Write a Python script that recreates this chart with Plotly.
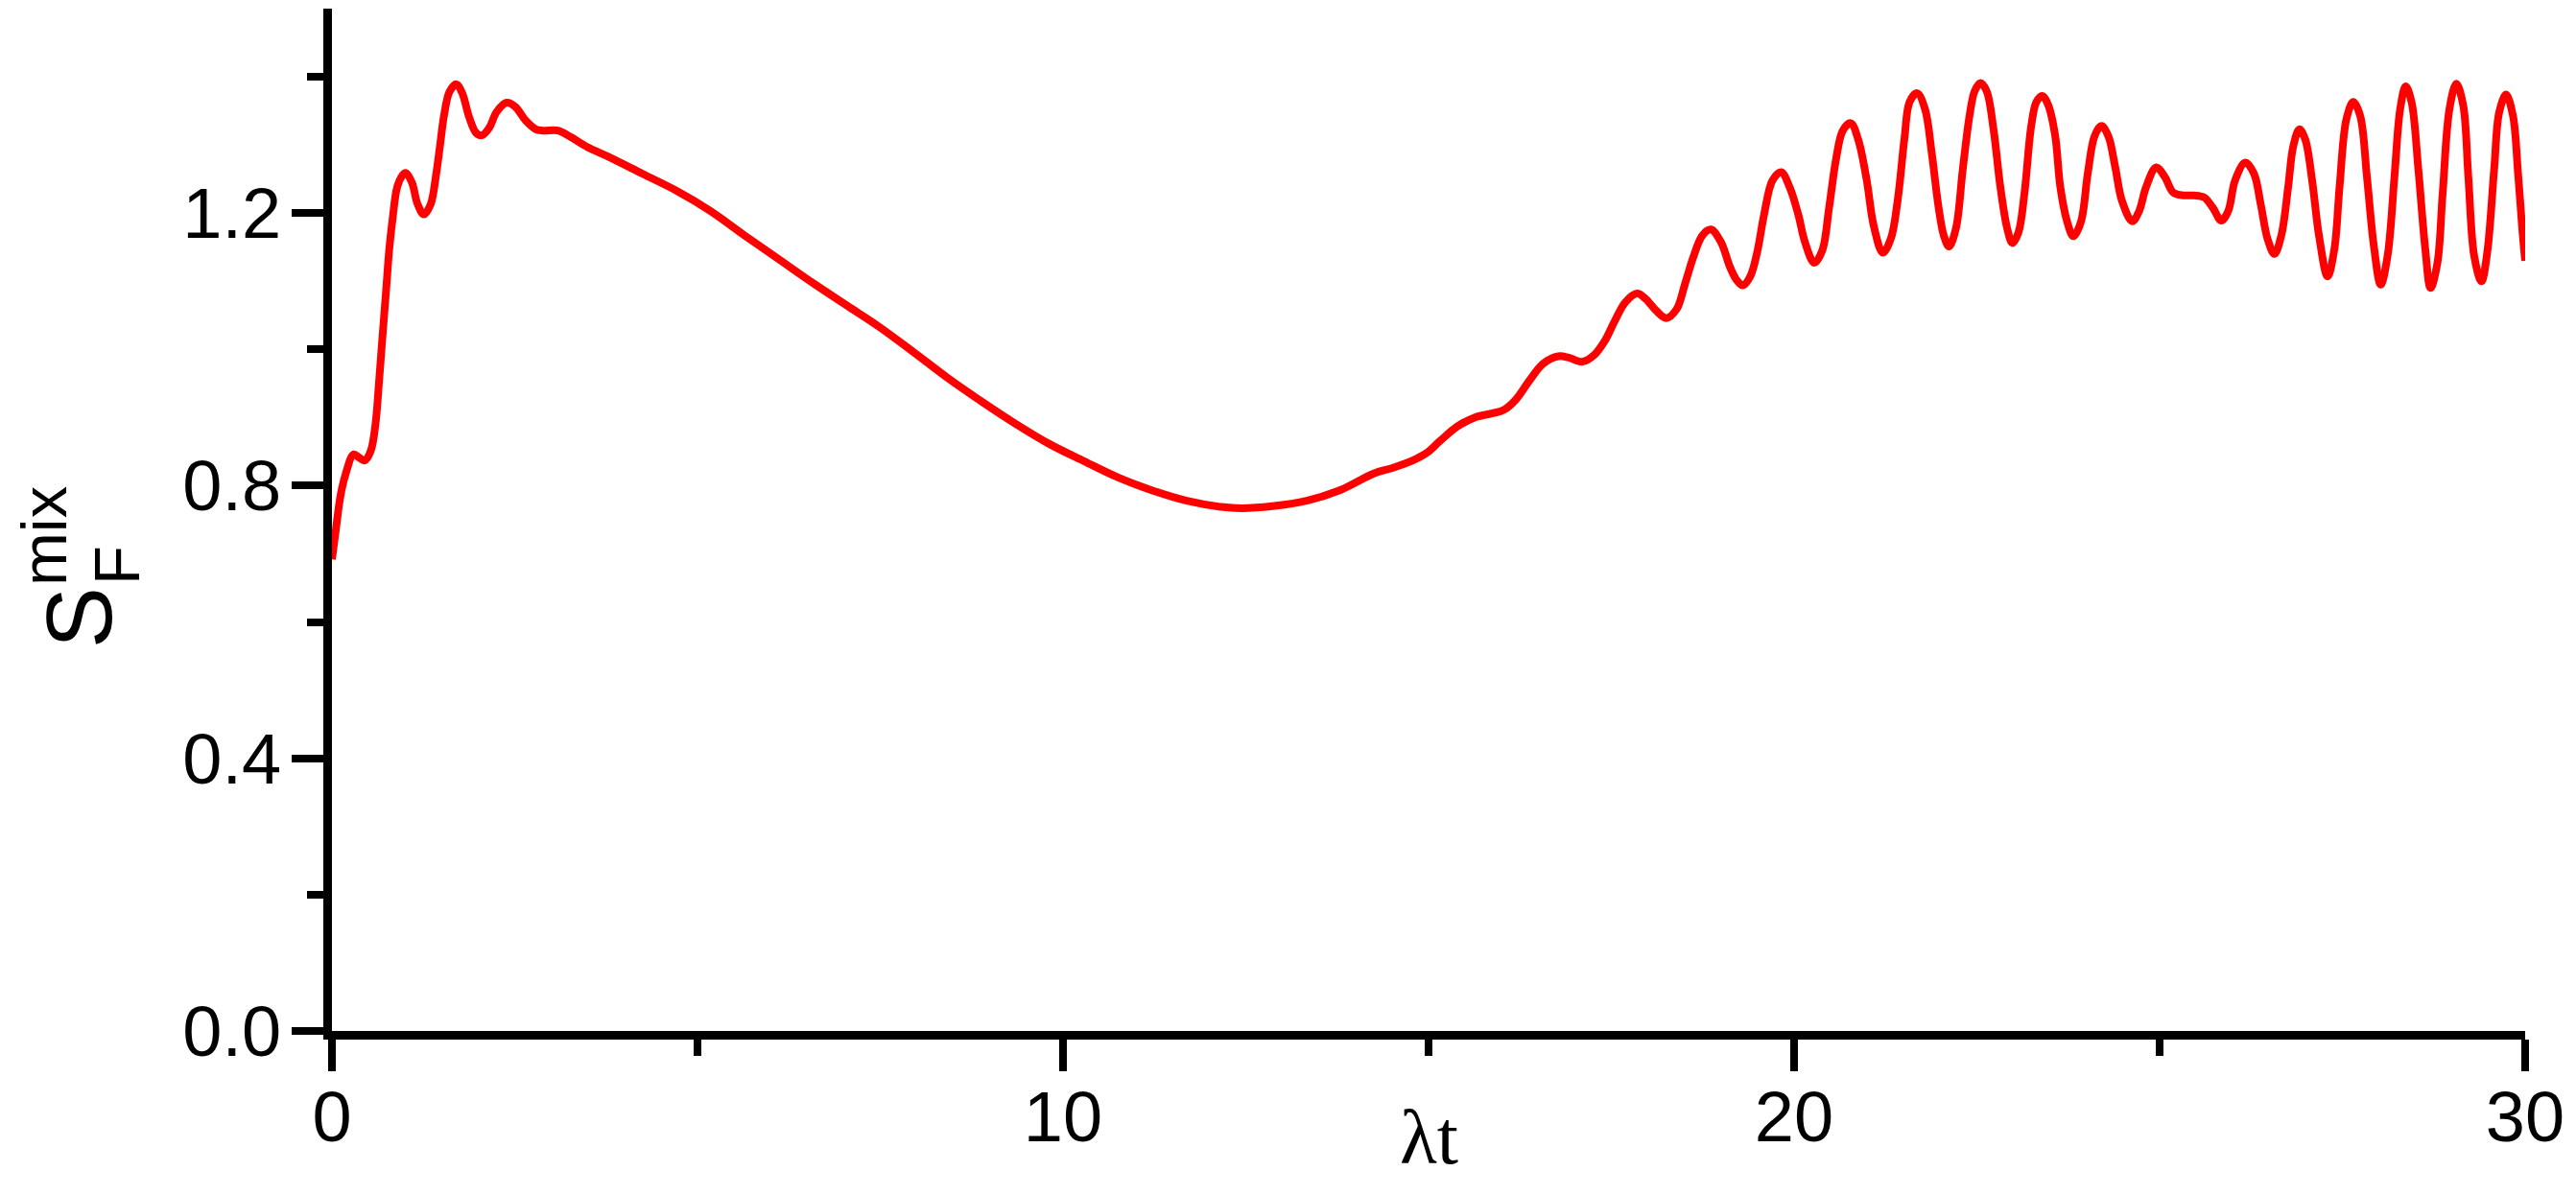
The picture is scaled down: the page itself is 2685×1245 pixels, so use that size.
import plotly.graph_objects as go

# lambda*t values, with the matching S_F^mix values
lambda_t = [
    0.0, 0.047, 0.118, 0.189, 0.297, 0.375, 0.446, 0.53, 0.596, 0.643, 0.69, 0.741,
    0.784, 0.831, 0.892, 0.962, 1.008, 1.093, 1.172, 1.257, 1.35, 1.42, 1.477, 1.533,
    1.608, 1.702, 1.782, 1.876, 1.969, 2.049, 2.156, 2.25, 2.39, 2.508, 2.648, 2.789,
    2.883, 3.094, 3.258, 3.492, 3.773, 4.242, 4.71, 5.179, 5.648, 6.116, 6.585, 7.05,
    7.475, 7.944, 8.412, 8.881, 9.35, 9.818, 10.287, 10.755, 11.224, 11.693, 12.161,
    12.443, 12.864, 13.333, 13.8, 14.25, 14.504, 14.785, 14.973, 15.16, 15.394, 15.628,
    15.862, 16.026, 16.19, 16.378, 16.565, 16.776, 16.917, 17.104, 17.268, 17.408,
    17.549, 17.69, 17.854, 17.971, 18.112, 18.252, 18.393, 18.51, 18.627, 18.744,
    18.862, 19.002, 19.119, 19.213, 19.297, 19.4, 19.494, 19.588, 19.705, 19.822,
    19.939, 20.057, 20.15, 20.277, 20.385, 20.479, 20.572, 20.666, 20.774, 20.877,
    20.994, 21.088, 21.214, 21.322, 21.416, 21.51, 21.58, 21.683, 21.79, 21.883,
    21.977, 22.048, 22.119, 22.213, 22.306, 22.4, 22.47, 22.55, 22.634, 22.728,
    22.822, 22.916, 22.986, 23.07, 23.15, 23.244, 23.314, 23.394, 23.478, 23.572,
    23.642, 23.736, 23.82, 23.923, 24.017, 24.11, 24.204, 24.298, 24.392, 24.485,
    24.626, 24.72, 24.814, 24.954, 25.071, 25.188, 25.329, 25.469, 25.61, 25.727,
    25.844, 25.938, 26.032, 26.172, 26.29, 26.383, 26.477, 26.57, 26.664, 26.758,
    26.828, 26.913, 26.992, 27.086, 27.18, 27.297, 27.39, 27.461, 27.555, 27.649,
    27.743, 27.836, 27.93, 28.024, 28.118, 28.212, 28.291, 28.366, 28.446, 28.54,
    28.634, 28.706, 28.8, 28.871, 28.965, 29.059, 29.153, 29.223, 29.303, 29.402,
    29.481, 29.575, 29.645, 29.739, 29.833, 29.903, 29.96, 30.0,
]
s_mix = [
    0.692, 0.73, 0.786, 0.818, 0.846, 0.841, 0.837, 0.851, 0.891, 0.951, 1.017, 1.087,
    1.147, 1.193, 1.238, 1.255, 1.259, 1.245, 1.213, 1.198, 1.213, 1.253, 1.298, 1.343,
    1.378, 1.389, 1.376, 1.341, 1.318, 1.314, 1.326, 1.348, 1.362, 1.356, 1.336, 1.323,
    1.321, 1.321, 1.312, 1.297, 1.283, 1.258, 1.233, 1.203, 1.167, 1.132, 1.097, 1.064,
    1.034, 0.997, 0.959, 0.924, 0.891, 0.861, 0.836, 0.812, 0.793, 0.778, 0.769,
    0.767, 0.77, 0.778, 0.794, 0.818, 0.826, 0.837, 0.848, 0.866, 0.887, 0.9,
    0.906, 0.911, 0.926, 0.954, 0.979, 0.99, 0.988, 0.982, 0.992, 1.012,
    1.042, 1.069, 1.082, 1.074, 1.057, 1.046, 1.059, 1.097, 1.137, 1.167,
    1.176, 1.157, 1.122, 1.102, 1.094, 1.107, 1.142, 1.197, 1.248, 1.26,
    1.238, 1.198, 1.157, 1.127, 1.145, 1.208, 1.278, 1.321, 1.332, 1.308,
    1.248, 1.182, 1.142, 1.162, 1.218, 1.31, 1.363, 1.376, 1.353, 1.288,
    1.208, 1.167, 1.151, 1.177, 1.263, 1.343, 1.379, 1.391, 1.379, 1.323,
    1.238, 1.177, 1.156, 1.172, 1.228, 1.328, 1.363, 1.372, 1.358, 1.313,
    1.238, 1.187, 1.166, 1.187, 1.258, 1.313, 1.328, 1.313, 1.268, 1.218,
    1.188, 1.203, 1.238, 1.267, 1.253, 1.23, 1.226, 1.226, 1.223, 1.208,
    1.189, 1.203, 1.248, 1.274, 1.258, 1.213, 1.162, 1.14, 1.167, 1.238,
    1.298, 1.323, 1.308, 1.248, 1.167, 1.107, 1.147, 1.238, 1.338, 1.363,
    1.343, 1.253, 1.152, 1.095, 1.137, 1.253, 1.353, 1.386, 1.363, 1.263,
    1.147, 1.09, 1.127, 1.228, 1.353, 1.39, 1.358, 1.253, 1.137, 1.1,
    1.142, 1.263, 1.348, 1.374, 1.343, 1.258, 1.177, 1.13,
]

x_ticks = [0, 10, 20, 30]
y_ticks = [0.0, 0.4, 0.8, 1.2]
y_tick_labels = ["0.0", "0.4", "0.8", "1.2"]

SANS = "Liberation Sans, Arial, sans-serif"
OFF = 8  # default body margin of the html page
W, H = 2685 - 2 * OFF, 1245 - 2 * OFF
L, R, T, B = 338, 45, 1, 162

fig = go.Figure(
    go.Scatter(
        x=lambda_t,
        y=s_mix,
        mode="lines",
        line=dict(color="#ff0000", width=8, shape="spline", smoothing=1.0),
        showlegend=False,
    )
)

axis_common = dict(
    showline=True,
    linecolor="black",
    linewidth=9,
    ticks="outside",
    ticklen=33,
    tickwidth=8,
    tickcolor="black",
    showgrid=False,
    zeroline=False,
    tickfont=dict(family=SANS, size=74, color="black"),
)

fig.update_xaxes(
    range=[0, 30],
    tickvals=x_ticks,
    minor=dict(dtick=5, ticks="outside", ticklen=17, tickwidth=8, tickcolor="black", showgrid=False),
    ticklabelstandoff=-16,
    **axis_common,
)
fig.update_yaxes(
    range=[0, 1.5],
    tickvals=y_ticks,
    ticktext=y_tick_labels,
    minor=dict(dtick=0.2, ticks="outside", ticklen=17, tickwidth=8, tickcolor="black", showgrid=False),
    ticklabelstandoff=-4,
    **axis_common,
)

plot_w = W - L - R
plot_h = H - T - B


# page pixel -> paper coordinates
def px_x(p):
    return (p - OFF - L) / plot_w


def px_y(p):
    return (OFF + H - B - p) / plot_h


# axis titles drawn as annotations so the sub/superscript can stack like the original
annotations = [
    dict(text="λt", x=15, xref="x", y=px_y(1186), yref="paper", showarrow=False,
         xanchor="center", yanchor="middle",
         font=dict(family="Liberation Serif, Times New Roman, serif", size=80, color="black")),
    dict(text="S", x=px_x(82), y=px_y(644), textangle=-90, showarrow=False,
         xref="paper", yref="paper", xanchor="center", yanchor="middle",
         font=dict(family=SANS, size=96, color="black")),
    dict(text="F", x=px_x(122), y=px_y(590), textangle=-90, showarrow=False,
         xref="paper", yref="paper", xanchor="center", yanchor="middle",
         font=dict(family=SANS, size=67, color="black")),
    dict(text="mix", x=px_x(45), y=px_y(559), textangle=-90, showarrow=False,
         xref="paper", yref="paper", xanchor="center", yanchor="middle",
         font=dict(family=SANS, size=67, color="black")),
]

fig.update_layout(
    width=W,
    height=H,
    margin=dict(l=L, r=R, t=T, b=B),
    paper_bgcolor="white",
    plot_bgcolor="white",
    annotations=annotations,
)

fig.write_html("out.html")
